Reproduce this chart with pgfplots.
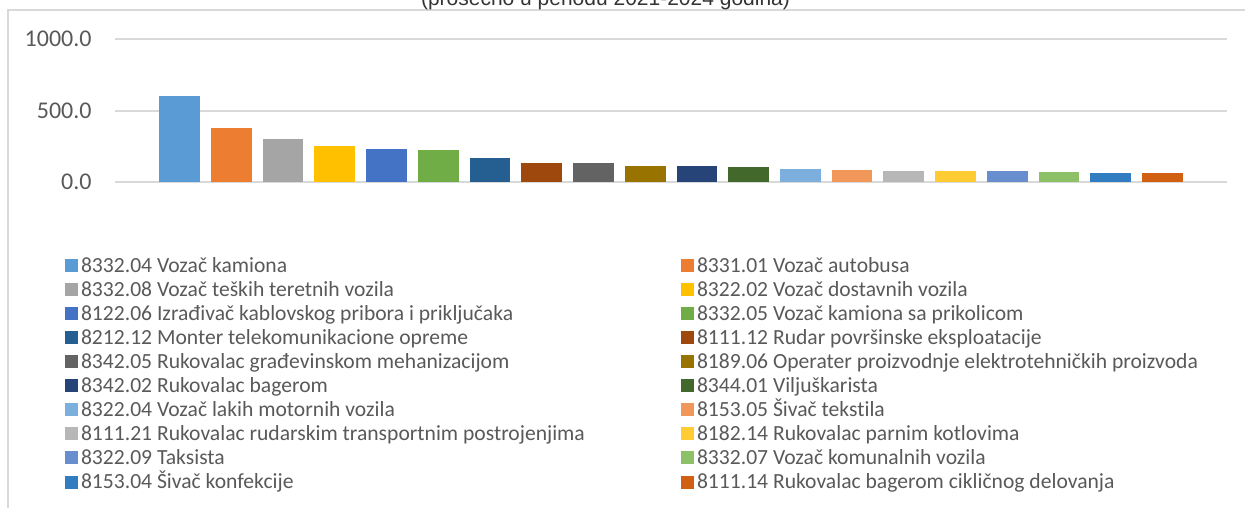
\documentclass[border=0pt]{standalone}
\usepackage{pgfplots}
\pgfplotsset{compat=1.18}
\usepackage{fontspec}
\setmainfont{Carlito}[Ligatures={NoCommon,NoContextual}]
\newfontfamily\arialfont{Liberation Sans}
\definecolor{gridc}{HTML}{D9D9D9}
\definecolor{txtc}{HTML}{595959}
\definecolor{c1}{HTML}{5B9BD5}
\definecolor{c2}{HTML}{ED7D31}
\definecolor{c3}{HTML}{A5A5A5}
\definecolor{c4}{HTML}{FFC000}
\definecolor{c5}{HTML}{4472C4}
\definecolor{c6}{HTML}{70AD47}
\definecolor{c7}{HTML}{255E91}
\definecolor{c8}{HTML}{9E480E}
\definecolor{c9}{HTML}{636363}
\definecolor{c10}{HTML}{997300}
\definecolor{c11}{HTML}{264478}
\definecolor{c12}{HTML}{43682B}
\definecolor{c13}{HTML}{7CAFDD}
\definecolor{c14}{HTML}{F1975A}
\definecolor{c15}{HTML}{B7B7B7}
\definecolor{c16}{HTML}{FFCD33}
\definecolor{c17}{HTML}{698ED0}
\definecolor{c18}{HTML}{8CC168}
\definecolor{c19}{HTML}{327DC2}
\definecolor{c20}{HTML}{D26012}
\pgfplotsset{
  mybar/.style={ybar, bar width=20.35pt, bar shift=0pt, draw=none, fill=#1,
    legend image code/.code={\fill[fill=#1,draw=none] (0pt,-3.25pt) rectangle (6.5pt,3.25pt); \path (8pt,0pt);}},
}
\newcommand{\lw}[1]{\makebox[300pt][l]{#1}}
\begin{document}
\begin{tikzpicture}
\useasboundingbox (0pt,0pt) rectangle (622.5pt,-254pt);
\draw[gridc, line width=1pt] (4pt,-254pt) -- (4pt,-5pt) -- (622.5pt,-5pt);
\node[anchor=base, font=\arialfont\fontsize{10.5}{12}\selectfont, text=black!80] at (302.75pt,-3pt) {(prosečno u periodu 2021-2024 godina)};
\begin{axis}[
  at={(57.5pt,-90.85pt)}, anchor=south west,
  scale only axis, width=556pt, height=71.2pt,
  xmin=-0.25, xmax=21.25, ymin=0, ymax=1000,
  xtick=\empty,
  ytick={0,500,1000}, yticklabels={0.0,500.0,1000.0},
  yticklabel style={anchor=east, inner sep=0pt, xshift=-11.5pt, text=txtc, font=\fontsize{12}{14}\selectfont},
  axis line style={draw=none}, tick style={draw=none},
  ymajorgrids, major grid style={gridc, line width=1pt},
  clip=false,
  legend columns=2,
  legend cell align=left,
  legend style={draw=none, fill=none, inner sep=0pt, outer sep=0pt,
    column sep=0pt, row sep=0pt,
    at={(-0.04496,-0.501)}, anchor=north west,
    nodes={inner sep=0pt, text height=9.475pt, text depth=2.575pt, text=txtc,
      font=\fontsize{10.8}{13}\selectfont}},
]
\addplot[mybar=c1] coordinates {(1,602)};
\addlegendentry{\lw{8332.04 Vozač kamiona}}
\addplot[mybar=c2] coordinates {(2,376)};
\addlegendentry{8331.01 Vozač autobusa}
\addplot[mybar=c3] coordinates {(3,299)};
\addlegendentry{\lw{8332.08 Vozač teških teretnih vozila}}
\addplot[mybar=c4] coordinates {(4,250)};
\addlegendentry{8322.02 Vozač dostavnih vozila}
\addplot[mybar=c5] coordinates {(5,229)};
\addlegendentry{\lw{8122.06 Izrađivač kablovskog pribora i priključaka}}
\addplot[mybar=c6] coordinates {(6,222)};
\addlegendentry{8332.05 Vozač kamiona sa prikolicom}
\addplot[mybar=c7] coordinates {(7,166)};
\addlegendentry{\lw{8212.12 Monter telekomunikacione opreme}}
\addplot[mybar=c8] coordinates {(8,131)};
\addlegendentry{8111.12 Rudar površinske eksploatacije}
\addplot[mybar=c9] coordinates {(9,131)};
\addlegendentry{\lw{8342.05 Rukovalac građevinskom mehanizacijom}}
\addplot[mybar=c10] coordinates {(10,110)};
\addlegendentry{8189.06 Operater proizvodnje elektrotehničkih proizvoda}
\addplot[mybar=c11] coordinates {(11,110)};
\addlegendentry{\lw{8342.02 Rukovalac bagerom}}
\addplot[mybar=c12] coordinates {(12,103)};
\addlegendentry{8344.01 Viljuškarista}
\addplot[mybar=c13] coordinates {(13,89)};
\addlegendentry{\lw{8322.04 Vozač lakih motornih vozila}}
\addplot[mybar=c14] coordinates {(14,82)};
\addlegendentry{8153.05 Šivač tekstila}
\addplot[mybar=c15] coordinates {(15,75)};
\addlegendentry{\lw{8111.21 Rukovalac rudarskim transportnim postrojenjima}}
\addplot[mybar=c16] coordinates {(16,75)};
\addlegendentry{8182.14 Rukovalac parnim kotlovima}
\addplot[mybar=c17] coordinates {(17,75)};
\addlegendentry{\lw{8322.09 Taksista}}
\addplot[mybar=c18] coordinates {(18,68)};
\addlegendentry{8332.07 Vozač komunalnih vozila}
\addplot[mybar=c19] coordinates {(19,61)};
\addlegendentry{\lw{8153.04 Šivač konfekcije}}
\addplot[mybar=c20] coordinates {(20,61)};
\addlegendentry{8111.14 Rukovalac bagerom cikličnog delovanja}
\end{axis}
\end{tikzpicture}
\end{document}
